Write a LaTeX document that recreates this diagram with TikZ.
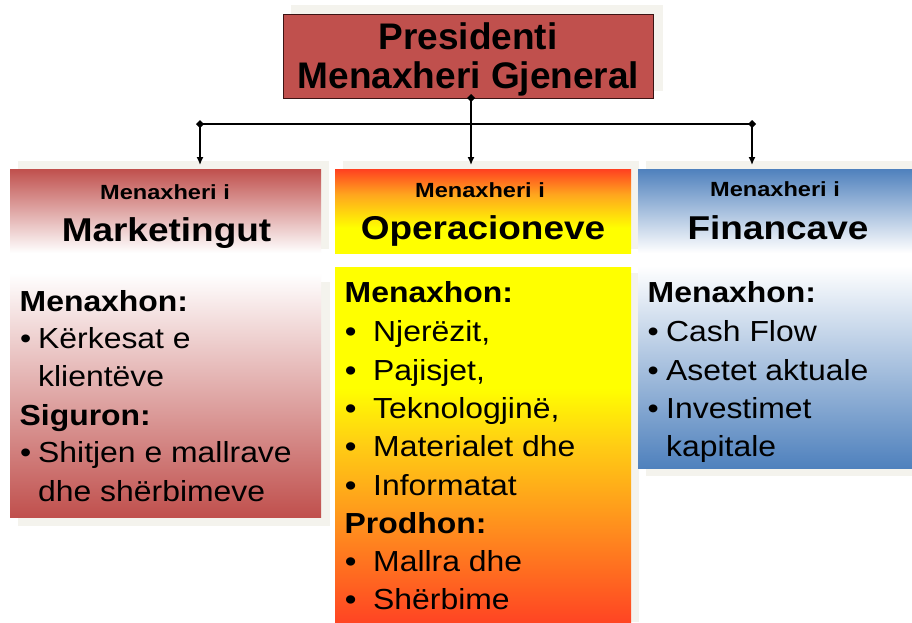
\documentclass[tikz,border=0pt]{standalone}
\usepackage{fontspec}
\setmainfont{Liberation Sans}
\newfontfamily\presfont{Liberation Sans}
\newfontfamily\smallhfont[FakeStretch=1.15]{Liberation Sans}
\newfontfamily\bighfont[FakeStretch=1.12]{Liberation Sans}
\newfontfamily\bodyfont[FakeStretch=1.1]{Liberation Sans}
\usetikzlibrary{arrows.meta}
\definecolor{accred}{RGB}{192,80,77}
\definecolor{accblue}{RGB}{79,129,189}
\definecolor{shadowc}{RGB}{244,243,237}
\definecolor{presborder}{RGB}{60,20,20}
\definecolor{opred}{RGB}{255,64,32}
\definecolor{opredb}{RGB}{255,68,35}
\definecolor{opyellow}{RGB}{255,255,0}
\definecolor{oporange}{RGB}{255,165,30}
\definecolor{oporangeb}{RGB}{255,140,30}
\definecolor{opyorange}{RGB}{255,205,20}
\pgfdeclareverticalshading{opheadshade}{100bp}{color(0bp)=(opyellow); color(25bp)=(opyellow); color(40bp)=(opyellow); color(60bp)=(oporange); color(75bp)=(opred); color(100bp)=(opred)}
\pgfdeclareverticalshading{opbodyshade}{100bp}{color(0bp)=(opredb); color(25bp)=(opredb); color(38bp)=(oporangeb); color(50bp)=(opyorange); color(58bp)=(opyellow); color(75bp)=(opyellow); color(100bp)=(opyellow)}
\tikzset{
  shadowbox/.style={fill=shadowc, draw=none},
  boxnode/.style={draw=none, inner sep=0, outer sep=0},
  conn/.style={line width=1.4pt, draw=black},
  arr/.style={conn, -{Latex[length=8pt,width=7pt]}, shorten >=4pt},
  txt/.style={anchor=base west, inner sep=0, font=\bodyfont\fontsize{29}{35}\selectfont},
  txtb/.style={anchor=base west, inner sep=0, font=\bodyfont\bfseries\fontsize{29}{35}\selectfont},
  hsm/.style={anchor=base, inner sep=0, font=\smallhfont\bfseries\fontsize{20.5}{24}\selectfont},
  hbig/.style={anchor=base, inner sep=0, font=\bighfont\bfseries\fontsize{33}{40}\selectfont},
  prestxt/.style={anchor=base, inner sep=0, font=\presfont\bfseries\fontsize{37}{44}\selectfont},
}
\newcommand{\jdiamond}[1]{\fill[black] (#1) +(0,-4) -- +(4,0) -- +(0,4) -- +(-4,0) -- cycle;}
\begin{document}
\begin{tikzpicture}[x=1pt,y=-1pt]
\useasboundingbox (0,0) rectangle (912,622);
\fill[white] (0,0) rectangle (912,622);
% shadows
\fill[shadowbox] (291,5) rectangle (663,91);
\fill[shadowbox] (18,161) rectangle (329,249);
\fill[shadowbox] (343,161) rectangle (639,249);
\fill[shadowbox] (646,161) rectangle (912,249);
\fill[shadowbox] (18,282) rectangle (330,526);
\fill[shadowbox] (343,273) rectangle (639,622);
\fill[shadowbox] (646,273) rectangle (912,476);
% president
\node[boxnode, draw=presborder, line width=1pt, fill=accred, minimum width=370pt, minimum height=84pt] (pres) at (468,56) {};
\node[prestxt] (pt1) at (468,49.3) {Presidenti};
\node[prestxt] (pt2) at (468.5,88.3) {Menaxheri Gjeneral};
% headers
\node[boxnode, top color=accred, bottom color=white, minimum width=311pt, minimum height=84pt] (lh) at (165.5,211) {};
\node[boxnode, shading=opheadshade, minimum width=296pt, minimum height=84pt] (mh) at (483,211) {};
\node[boxnode, top color=accblue, bottom color=white, minimum width=274pt, minimum height=84pt] (rh) at (775,211) {};
% bodies
\node[boxnode, top color=white, bottom color=accred, minimum width=311pt, minimum height=244pt] (lb) at (165.5,395) {};
\node[boxnode, shading=opbodyshade, minimum width=296pt, minimum height=356pt] (mb) at (483,445) {};
\node[boxnode, top color=white, bottom color=accblue, minimum width=274pt, minimum height=202pt] (rb) at (775,367) {};
% header texts
\node[hsm] (lh1) at (165,199.3) {Menaxheri i};
\node[hbig] (lh2) at (166.5,241.7) {Marketingut};
\node[hsm] (mh1) at (480,197.3) {Menaxheri i};
\node[hbig] (mh2) at (483,239.3) {Operacioneve};
\node[hsm] (rh1) at (775,196.7) {Menaxheri i};
\node[hbig] (rh2) at (778,239.3) {Financave};
% connectors
\coordinate (pstart) at (471,98);
\coordinate (jl) at (200,124);
\coordinate (jr) at (752,124);
\draw[conn] (jl) -- (jr);
\draw[arr] (pstart) -- (pstart |- mh.north);
\draw[arr] (jl) -- (jl |- lh.north);
\draw[arr] (jr) -- (jr |- rh.north);
\jdiamond{pstart}
\jdiamond{jl}
\jdiamond{jr}
% left body text
\node[txtb] (l1) at (19.5,311.7) {Menaxhon:};
\node[txt] (l2b) at (20,348.3) {•};
\node[txt] (l2) at (38,348.3) {Kërkesat e};
\node[txt] (l3) at (38,386.7) {klientëve};
\node[txtb] (l4) at (19.5,425) {Siguron:};
\node[txt] (l5b) at (20,462.7) {•};
\node[txt] (l5) at (38,462.7) {Shitjen e mallrave};
\node[txt] (l6) at (38,501.7) {dhe shërbimeve};
% middle body text
\node[txtb] (m1) at (344.5,302.7) {Menaxhon:};
\node[txtb] (m2b) at (345,341.7) {•};
\node[txt] (m2) at (373,341.7) {Njerëzit,};
\node[txtb] (m3b) at (345,380) {•};
\node[txt] (m3) at (373,380) {Pajisjet,};
\node[txtb] (m4b) at (345,418) {•};
\node[txt] (m4) at (373,418) {Teknologjinë,};
\node[txtb] (m5b) at (345,456.7) {•};
\node[txt] (m5) at (373,456.7) {Materialet dhe};
\node[txtb] (m6b) at (345,495) {•};
\node[txt] (m6) at (373,495) {Informatat};
\node[txtb] (m7) at (344.5,533) {Prodhon:};
\node[txtb] (m8b) at (345,571.7) {•};
\node[txt] (m8) at (373,571.7) {Mallra dhe};
\node[txtb] (m9b) at (345,609) {•};
\node[txt] (m9) at (373,609) {Shërbime};
% right body text
\node[txtb] (r1) at (647.5,302.7) {Menaxhon:};
\node[txt] (r2b) at (647.5,341) {•};
\node[txt] (r2) at (666,341) {Cash Flow};
\node[txt] (r3b) at (647.5,380) {•};
\node[txt] (r3) at (666,380) {Asetet aktuale};
\node[txt] (r4b) at (647.5,418) {•};
\node[txt] (r4) at (666,418) {Investimet};
\node[txt] (r5) at (666,456) {kapitale};
\end{tikzpicture}
\end{document}
